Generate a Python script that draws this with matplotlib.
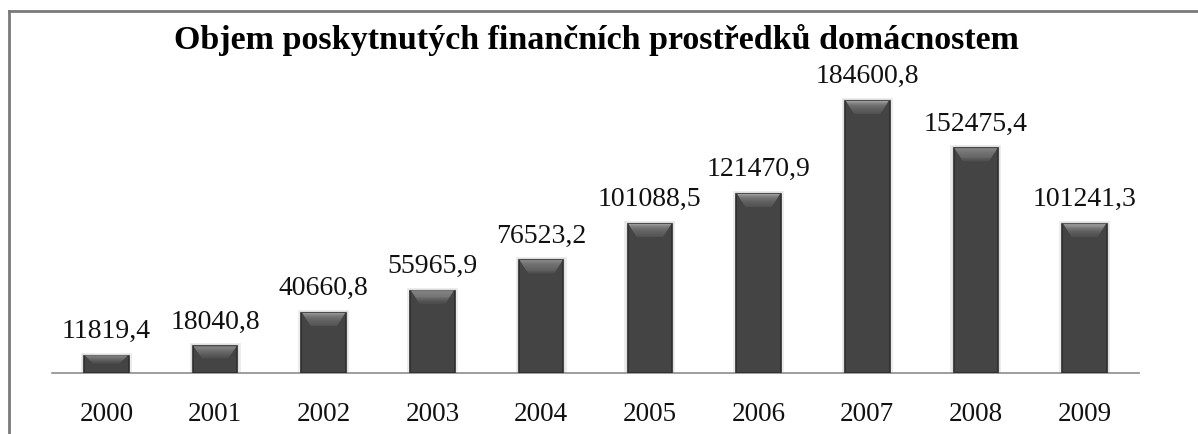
import numpy as np
import matplotlib.pyplot as plt
from matplotlib.patches import Polygon
from matplotlib.lines import Line2D

years = ["2000", "2001", "2002", "2003", "2004", "2005", "2006", "2007", "2008", "2009"]
values = [11819.4, 18040.8, 40660.8, 55965.9, 76523.2, 101088.5, 121470.9, 184600.8, 152475.4, 101241.3]
labels = ["11819,4", "18040,8", "40660,8", "55965,9", "76523,2", "101088,5",
          "121470,9", "184600,8", "152475,4", "101241,3"]

plt.rcParams['font.family'] = ['Liberation Serif', 'DejaVu Serif']

W, H = 1198, 435
fig = plt.figure(figsize=(W/100, H/100), dpi=100)
ymax = 200000
ax_h = 272.0 / 184600.8 * ymax
ax = fig.add_axes([52/W, 61/H, 1087/W, ax_h/H])

x = np.arange(len(years))
bars = ax.bar(x, values, width=0.41, color='#444444', edgecolor='#2e2e2e', linewidth=1.2, zorder=3)
ax.set_xlim(-0.5, len(years) - 0.5)
ax.set_ylim(0, ymax)

# soft shadow + gradient bevel on top of each bar
px_per_unit = ax_h / ymax
bev = 13 / px_per_unit
ins = 0.085
nstrip = 12
c_top = np.array([0.62, 0.62, 0.62])
c_bot = np.array([0.30, 0.30, 0.30])
for i, b in enumerate(bars):
    x0, w, h = b.get_x(), b.get_width(), b.get_height()
    for k, (dx, col) in enumerate([(0.03, '#ececec'), (0.015, '#dedede')]):
        sh = Polygon([[x0 - dx, 0], [x0 - dx, h + (3 - k)/px_per_unit], [x0 + w + dx, h + (3 - k)/px_per_unit],
                      [x0 + w + dx, 0]], closed=True, color=col, zorder=2, lw=0)
        ax.add_patch(sh)
    bh = min(bev, h * 0.45)
    for k in range(nstrip):
        f0, f1 = k / nstrip, (k + 1) / nstrip
        col = c_top + (c_bot - c_top) * (f0 ** 0.8)
        pts = [[x0 + 0.008 + (ins - 0.008) * f0, h - bh * f0], [x0 + w - 0.008 - (ins - 0.008) * f0, h - bh * f0],
               [x0 + w - 0.008 - (ins - 0.008) * f1, h - bh * f1], [x0 + 0.008 + (ins - 0.008) * f1, h - bh * f1]]
        ax.add_patch(Polygon(pts, closed=True, color=col, zorder=4, lw=0))
    ax.annotate(labels[i], (x0 + w/2, h), xytext=(0, 13.5), textcoords='offset points',
                ha='center', va='baseline', fontsize=20, color='#111111')

ax.set_xticks(x)
ax.set_xticklabels(years, fontsize=19.5, color='#111111')
ax.tick_params(axis='x', length=0, pad=20)
ax.set_yticks([])
for s in ['top', 'right', 'left']:
    ax.spines[s].set_visible(False)
ax.spines['bottom'].set_color('#8c8c8c')
ax.spines['bottom'].set_linewidth(1.2)

fig.text(597/W, 1 - 40/H, "Objem poskytnutých finančních prostředků domácnostem",
         ha='center', va='center', fontsize=24.5, fontweight='bold', color='black')

# outer frame (left and top edges)
fig.add_artist(Line2D([9/W, 9/W], [0, 1 - 12/H], color='#7a7a7a', lw=2))
fig.add_artist(Line2D([9/W, 1], [1 - 12/H, 1 - 12/H], color='#7a7a7a', lw=2))

fig.savefig("out.png", dpi=100)
